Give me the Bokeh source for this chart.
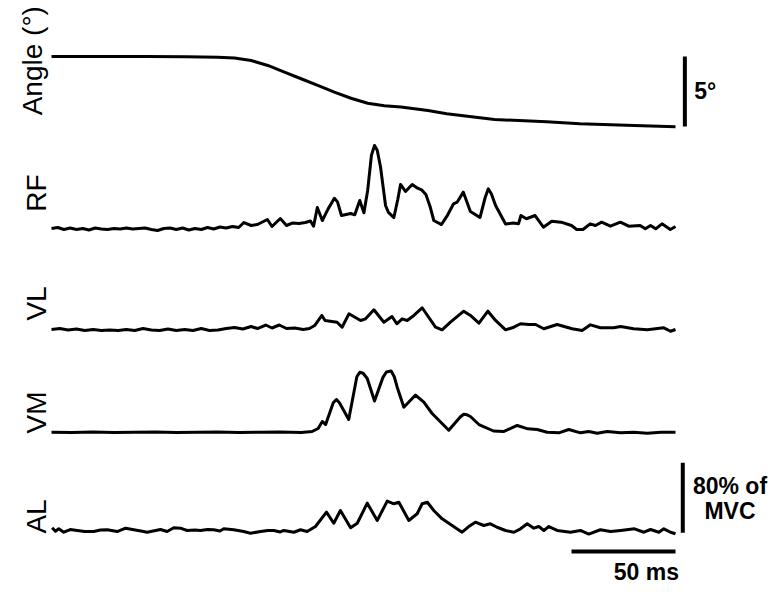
import math
from bokeh.plotting import figure
from bokeh.models import Range1d, Label
from bokeh.embed import file_html
from bokeh.resources import INLINE

# ---------------- data ----------------
# Joint angle (degrees, relative to start) vs time (ms)
angle_t = [0, 45, 65, 80, 88, 96, 104, 112, 120, 128, 136, 144, 152, 160, 168,
           181, 190, 206, 213, 238, 254, 280, 300]
angle_deg = [0, 0, -0.02, -0.05, -0.10, -0.29, -0.64, -1.12, -1.59, -2.07, -2.55,
             -2.98, -3.34, -3.52, -3.61, -3.86, -4.09, -4.38, -4.50, -4.66, -4.81,
             -4.93, -5.02]

# EMG envelopes (% of MVC) vs time (ms)
rf_t = [0, 3, 6, 9, 12, 15, 18, 21, 24, 27, 30, 33, 36, 39, 42, 45, 48, 51, 54, 57,
        60, 63, 66, 69, 72, 75, 78, 81, 84, 87, 90, 92.5, 96, 99, 103.8, 106, 110,
        113, 116, 119, 122, 124.5, 126, 127.8, 130.2, 133, 136, 137.5, 139.4,
        143.9, 145.8, 148.2, 150.2, 152, 153.8, 155.3, 156.6, 158.2, 160.6, 162,
        164.6, 166.5, 167.8, 170.2, 173.4, 176, 177.9, 180, 182, 183.8, 186, 187.5,
        190.5, 193.3, 195, 198, 201.4, 206, 208.5, 210, 211.5, 213.5, 218.3, 222,
        224.5, 225.7, 228.3, 232.5, 236.5, 240.5, 245, 250, 252.5, 255.5, 259,
        261.5, 264.5, 268.7, 273.5, 277.5, 283, 285.5, 288, 290.5, 293.5, 297.5,
        300]
rf_v = [4.6, 5.7, 3.4, 5.1, 3.4, 4.6, 2.9, 5.1, 4.0, 3.4, 4.6, 4.0, 5.1, 4.0, 4.6,
        5.1, 3.4, 2.3, 4.6, 5.1, 3.4, 5.1, 2.9, 4.6, 3.4, 5.7, 4.0, 6.3, 5.1, 6.9,
        5.7, 11.4, 8.0, 9.1, 14.9, 6.9, 16.0, 8.0, 10.9, 10.3, 11.4, 13.1, 7.2,
        28.6, 13.7, 27.0, 39.2, 35.0, 19.4, 21.7, 20.2, 36.6, 22.5, 48.0, 88.0,
        99.4, 94.0, 74.6, 30.9, 22.9, 17.1, 38.0, 54.9, 46.9, 54.9, 50.6, 48.8,
        43.4, 29.7, 13.7, 10.9, 9.1, 20.2, 32.8, 34.6, 46.1, 24.0, 17.1, 40.0, 49.9,
        44.0, 30.9, 9.7, 10.9, 9.9, 19.4, 15.7, 19.4, 6.1, 12.9, 11.8, 8.0, 3.4,
        3.4, 9.9, 8.0, 11.8, 7.2, 11.8, 7.2, 8.0, 4.2, 8.0, 4.2, 9.9, 3.4, 6.9]

vl_t = [0, 4, 8, 12, 16, 20, 24, 28, 32, 36, 40, 44, 48, 52, 56, 60, 64, 68, 72,
        76, 80, 84, 88, 92, 96, 99, 103, 106, 109.5, 113, 117, 121, 124, 126.5,
        130, 131.5, 137.3, 139.7, 143, 148.6, 151, 155, 159.8, 163.7, 166, 168.6,
        171, 174.2, 178.2, 184.6, 187.8, 191.8, 198.2, 201.4, 205.5, 209.8, 213.5,
        218.3, 222.3, 225.5, 229.5, 232.7, 236.7, 243.1, 250.3, 255.1, 259.1,
        263.9, 270.3, 273.6, 279.9, 286.4, 294.4, 297.6, 300]
vl_v = [4.6, 5.7, 4.0, 5.1, 3.4, 4.6, 3.4, 4.0, 3.4, 4.6, 3.4, 5.7, 4.0, 3.4, 5.1,
        3.4, 4.6, 3.4, 5.7, 3.4, 4.0, 5.7, 6.9, 5.1, 8.0, 5.7, 9.7, 6.3, 9.7, 5.7,
        6.3, 4.6, 5.7, 9.1, 20.6, 14.9, 12.9, 7.2, 22.5, 14.9, 16.8, 27.1, 12.9,
        19.4, 11.1, 16.8, 14.9, 20.6, 29.4, 7.2, 4.2, 12.9, 25.5, 20.6, 11.8, 25.5,
        14.9, 4.2, 7.2, 11.1, 10.3, 10.3, 5.4, 10.3, 5.4, 3.4, 9.9, 6.5, 6.5, 8.0,
        5.4, 4.2, 6.5, 2.6, 4.6]

vm_t = [0, 10, 20, 30, 40, 50, 60, 70, 80, 90, 100, 110, 120, 125.3, 128.2, 130.2,
        131.8, 135.5, 137, 138.5, 142.9, 146.8, 148.2, 149.8, 151.8, 155.3, 159.3,
        161, 163.3, 164.8, 166.2, 169.4, 175, 179, 183, 191, 196.5, 198.2, 199.8,
        201.4, 205.5, 212.5, 217.3, 223.9, 229, 233.5, 238.3, 243.9, 248.7, 254.3,
        258.3, 262.4, 267.2, 273.6, 279.9, 286.4, 293, 300]
vm_v = [2.6, 2.3, 2.9, 2.3, 2.6, 2.9, 2.3, 2.6, 2.9, 2.3, 2.6, 2.9, 2.3, 3.4, 6.9,
        14.9, 11.4, 36.5, 40.0, 36.0, 17.1, 66.0, 71.2, 70.0, 64.0, 38.3, 65.0,
        71.4, 72.6, 66.0, 54.1, 31.2, 45.1, 36.9, 24.0, 4.9, 20.0, 23.1, 22.5,
        20.6, 11.4, 4.0, 3.4, 10.3, 6.5, 5.7, 2.6, 1.9, 5.7, 1.9, 3.4, 1.5, 3.4,
        1.9, 2.6, 1.5, 2.6, 2.6]

al_t = [0.3, 1.9, 3.5, 5.9, 9, 12.4, 16, 20.3, 23.5, 26.8, 31.6, 35.6, 39.6, 43, 46,
        52.4, 55.6, 58.8, 62, 65.2, 69, 71.6, 75, 78, 81, 82.8, 87.6, 92.4, 95.7,
        100.5, 104, 106.9, 110, 111.7, 116.5, 119.7, 122.9, 126.9, 132.2, 135.7,
        138.9, 143.8, 147, 151.8, 156.6, 161.4, 164.6, 167, 171.8, 175.8, 178.2,
        180.7, 183.8, 187.8, 192.6, 197.4, 200.6, 203.8, 207.8, 211, 214.2, 218.3,
        222.3, 225.5, 228.7, 231.9, 234.3, 236.7, 239.1, 243.1, 249.5, 254.3, 258.3,
        263.9, 268.8, 273.6, 280.3, 284.8, 288, 292, 294.4, 297.6, 300]
al_v = [7.7, 3.8, 6.5, 2.6, 5.7, 4.6, 3.4, 3.4, 5.1, 5.4, 3.4, 7.2, 5.4, 4.0, 2.6,
        5.7, 3.4, 7.7, 7.2, 4.6, 5.1, 4.6, 5.7, 5.4, 4.0, 6.5, 5.4, 3.4, 1.5, 3.4,
        4.6, 4.6, 2.9, 4.6, 2.6, 5.4, 3.4, 9.1, 25.5, 12.9, 27.4, 7.7, 12.9, 35.8,
        16.0, 38.1, 35.1, 36.9, 16.0, 23.7, 35.1, 36.9, 27.4, 17.9, 10.3, 2.6, 9.1,
        14.1, 10.3, 12.2, 8.3, 4.6, 2.6, 6.5, 12.2, 7.2, 9.1, 4.6, 9.1, 4.6, 2.6,
        4.6, 0.5, 5.4, 3.4, 4.6, 6.5, 2.6, 5.7, 2.6, 6.5, 2.6, 0.8]

trace_labels = ["Angle (°)", "RF", "VL", "VM", "AL"]

# scale bars
angle_bar_deg = 5       # degrees
emg_bar_mvc = 80        # % MVC
time_bar_ms = 50        # ms
angle_bar_text = "5°"
emg_bar_text = ["80% of", "MVC"]
time_bar_text = "50 ms"

# ---------------- layout (pixels) ----------------
W, H = 775, 596
PX_PER_MS = 2.08
PX_PER_DEG = 14.0
PX_PER_MVC = 0.875
X0 = 51                      # pixel of t = 0 inside the canvas
zero_px = {"angle": 56, "rf": 232, "vl": 333, "vm": 434, "al": 534}
scale = {"angle": PX_PER_DEG, "rf": PX_PER_MVC, "vl": PX_PER_MVC,
         "vm": PX_PER_MVC, "al": PX_PER_MVC}


def yrange(key):
    z, s = zero_px[key], scale[key]
    return Range1d(start=-(H - z) / s, end=z / s)


p = figure(width=W, height=H, output_backend="svg", toolbar_location=None,
           x_axis_type=None, y_axis_type=None, min_border=0,
           x_range=Range1d(-X0 / PX_PER_MS, (W - X0) / PX_PER_MS),
           y_range=yrange("angle"))
p.outline_line_color = None
p.grid.visible = False
p.background_fill_color = "white"
p.border_fill_color = "white"
for k in ["rf", "vl", "vm", "al"]:
    p.extra_y_ranges[k] = yrange(k)

LW = 3.0
p.line(angle_t, angle_deg, line_color="black", line_width=LW, line_join="round")
for k, (t, v) in {"rf": (rf_t, rf_v), "vl": (vl_t, vl_v),
                  "vm": (vm_t, vm_v), "al": (al_t, al_v)}.items():
    p.line(t, v, y_range_name=k, line_color="black", line_width=LW,
           line_join="round")

# scale bars
BW = 4
p.line([304.5, 304.5], [-angle_bar_deg, 0], line_color="black", line_width=BW)
p.line([303.5, 303.5], [2, 2 + emg_bar_mvc], y_range_name="al",
       line_color="black", line_width=BW)
p.line([300 - time_bar_ms, 300], [-19.5, -19.5], y_range_name="al",
       line_color="black", line_width=BW)

FONT = "Liberation Sans"
BOLD = dict(text_font=FONT, text_font_size="23px", text_font_style="bold",
            text_color="black")
p.add_layout(Label(x=309, y=-2.45, text=angle_bar_text, text_align="left",
                   text_baseline="middle", **BOLD))
p.add_layout(Label(x=326.2, y=54.9, y_range_name="al", text=emg_bar_text[0],
                   text_align="center", text_baseline="middle", **BOLD))
p.add_layout(Label(x=326.2, y=26.3, y_range_name="al", text=emg_bar_text[1],
                   text_align="center", text_baseline="middle", **BOLD))
p.add_layout(Label(x=286, y=-42.9, y_range_name="al", text=time_bar_text,
                   text_align="center", text_baseline="middle", **BOLD))

# trace labels (rotated)
label_pos = [("default", -9.2, -0.3), ("rf", -7.2, 45.0), ("vl", -7.2, 34.3),
             ("vm", -7.2, 25.1), ("al", -7.2, 20.6)]
for text, (rn, lx, ly) in zip(trace_labels, label_pos):
    p.add_layout(Label(x=lx, y=ly, y_range_name=rn, text=text, text_font=FONT,
                       text_font_size="28px", text_color="black",
                       angle=math.pi / 2, text_align="center",
                       text_baseline="alphabetic"))

open("out.html", "w").write(file_html(p, INLINE))
